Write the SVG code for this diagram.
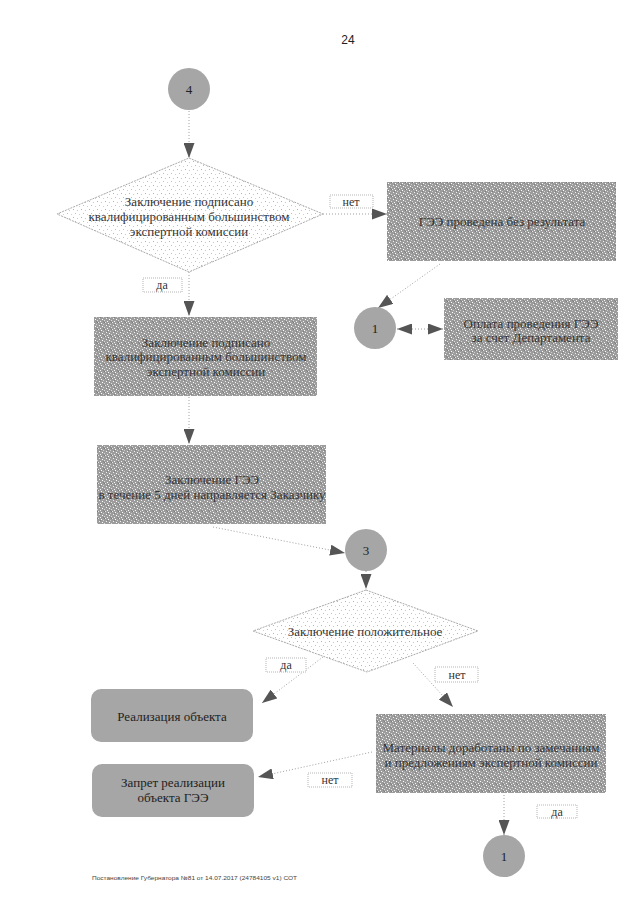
<svg xmlns="http://www.w3.org/2000/svg" width="640" height="905" viewBox="0 0 640 905">
<defs>
<pattern id="grain" width="7" height="7" patternUnits="userSpaceOnUse">
<rect width="7" height="7" fill="#9c9c9c"/>
<rect x="0" y="0" width="1" height="1" fill="#e6e6e6"/>
<rect x="3" y="1" width="1" height="1" fill="#ffffff"/>
<rect x="5" y="2" width="1" height="1" fill="#d0d0d0"/>
<rect x="1" y="3" width="1" height="1" fill="#f0f0f0"/>
<rect x="4" y="4" width="1" height="1" fill="#ffffff"/>
<rect x="6" y="5" width="1" height="1" fill="#dcdcdc"/>
<rect x="2" y="6" width="1" height="1" fill="#f4f4f4"/>
<rect x="6" y="0" width="1" height="1" fill="#7a7a7a"/>
<rect x="2" y="2" width="1" height="1" fill="#808080"/>
<rect x="5" y="6" width="1" height="1" fill="#858585"/>
</pattern>
<pattern id="speck" width="8" height="8" patternUnits="userSpaceOnUse">
<rect width="8" height="8" fill="#ffffff"/>
<rect x="1" y="1" width="1" height="1" fill="#b5b5b5"/>
<rect x="5" y="2" width="1" height="1" fill="#c8c8c8"/>
<rect x="3" y="5" width="1" height="1" fill="#bdbdbd"/>
<rect x="7" y="6" width="1" height="1" fill="#d0d0d0"/>
</pattern>
<marker id="ah" markerUnits="userSpaceOnUse" markerWidth="15" markerHeight="11" refX="15" refY="5.5" orient="auto">
<path d="M0,0 L15,5.5 L0,11 z" fill="#555555"/>
</marker>
<marker id="ahs" markerUnits="userSpaceOnUse" markerWidth="15" markerHeight="11" refX="0" refY="5.5" orient="auto">
<path d="M15,0 L0,5.5 L15,11 z" fill="#555555"/>
</marker>
</defs>
<style>
.box{fill:url(#grain);}
.dia{fill:url(#speck);stroke:#aaaaaa;stroke-width:1;stroke-dasharray:2,1;}
.circ{fill:#a6a6a6;}
.rbox{fill:#a6a6a6;}
.t{font-family:"Liberation Serif","DejaVu Serif",serif;font-size:13px;fill:#333333;text-anchor:middle;}
.tb{font-family:"Liberation Serif","DejaVu Serif",serif;font-size:13px;fill:#222222;text-anchor:middle;}
.conn{fill:none;stroke:#a0a0a0;stroke-width:1;stroke-dasharray:1,2;}
.lbl{fill:#ffffff;stroke:#b5b5b5;stroke-width:1;stroke-dasharray:1,1;}
</style>
<rect width="640" height="905" fill="#ffffff"/>
<text x="348" y="44" style="font-family:'Liberation Sans',Arial,sans-serif;font-size:12px;fill:#222;text-anchor:middle">24</text>

<g id="connectors">
<line class="conn" x1="189" y1="111" x2="189" y2="158" marker-end="url(#ah)"/>
<line class="conn" x1="323" y1="214" x2="387" y2="214" marker-end="url(#ah)"/>
<line class="conn" x1="189" y1="272" x2="189" y2="316" marker-end="url(#ah)"/>
<line class="conn" x1="440" y1="264" x2="378" y2="308" marker-end="url(#ah)"/>
<line class="conn" x1="397" y1="329" x2="443" y2="329" marker-start="url(#ahs)" marker-end="url(#ah)"/>
<line class="conn" x1="189" y1="397" x2="189" y2="444" marker-end="url(#ah)"/>
<line class="conn" x1="213" y1="527" x2="345" y2="553" marker-end="url(#ah)"/>
<line class="conn" x1="366" y1="571" x2="366" y2="589" marker-end="url(#ah)"/>
<line class="conn" x1="323" y1="657" x2="262" y2="703" marker-end="url(#ah)"/>
<line class="conn" x1="413" y1="663" x2="453" y2="707" marker-end="url(#ah)"/>
<line class="conn" x1="372" y1="752" x2="258" y2="777" marker-end="url(#ah)"/>
<line class="conn" x1="504" y1="795" x2="504" y2="835" marker-end="url(#ah)"/>
</g>

<g id="labels">
<rect class="lbl" x="330" y="195" width="43" height="13"/>
<text class="t" x="351" y="206" style="font-size:12px">нет</text>
<rect class="lbl" x="143" y="278" width="39" height="14"/>
<text class="t" x="162" y="289" style="font-size:12px">да</text>
<rect class="lbl" x="266" y="658" width="40" height="14"/>
<text class="t" x="286" y="669" style="font-size:12px">да</text>
<rect class="lbl" x="435" y="667" width="43" height="15"/>
<text class="t" x="457" y="679" style="font-size:12px">нет</text>
<rect class="lbl" x="308" y="773" width="44" height="14"/>
<text class="t" x="330" y="784" style="font-size:12px">нет</text>
<rect class="lbl" x="537" y="805" width="40" height="13"/>
<text class="t" x="557" y="816" style="font-size:12px">да</text>
</g>

<g id="n4">
<circle class="circ" cx="189" cy="89" r="21"/>
<text class="tb" x="189" y="94">4</text>
</g>

<g id="d1">
<polygon class="dia" points="189,158 323,214 189,272 57,214"/>
<text class="t" x="189" y="206">Заключение подписано</text>
<text class="t" x="189" y="221">квалифицированным большинством</text>
<text class="t" x="189" y="236">экспертной комиссии</text>
</g>

<g id="b_noresult">
<rect class="box" x="387" y="182" width="229" height="79"/>
<text class="t" x="502" y="226">ГЭЭ проведена без результата</text>
</g>

<g id="c1a">
<circle class="circ" cx="375" cy="328" r="21"/>
<text class="tb" x="375" y="333">1</text>
</g>

<g id="b_pay">
<rect class="box" x="444" y="298" width="174" height="62"/>
<text class="t" x="531" y="328">Оплата проведения ГЭЭ</text>
<text class="t" x="531" y="342">за счет Департамента</text>
</g>

<g id="b1">
<rect class="box" x="94" y="317" width="223" height="79"/>
<text class="t" x="206" y="347">Заключение подписано</text>
<text class="t" x="206" y="361">квалифицированным большинством</text>
<text class="t" x="206" y="376">экспертной комиссии</text>
</g>

<g id="b2">
<rect class="box" x="97" y="445" width="229" height="79"/>
<text class="t" x="212" y="484">Заключение ГЭЭ</text>
<text class="t" x="212" y="499">в течение 5 дней направляется Заказчику</text>
</g>

<g id="c3">
<circle class="circ" cx="366" cy="550" r="21"/>
<text class="tb" x="366" y="555">3</text>
</g>

<g id="d2">
<polygon class="dia" points="366,590 478,631 367,672 253,631"/>
<text class="t" x="365" y="636">Заключение положительное</text>
</g>

<g id="r_real">
<rect class="rbox" x="91" y="689" width="162" height="53" rx="10" ry="10"/>
<text class="tb" x="172" y="721">Реализация объекта</text>
</g>

<g id="b_mat">
<rect class="box" x="376" y="714" width="230" height="79"/>
<text class="t" x="491" y="752">Материалы доработаны по замечаниям</text>
<text class="t" x="491" y="767">и предложениям экспертной комиссии</text>
</g>

<g id="r_ban">
<rect class="rbox" x="92" y="764" width="162" height="53" rx="10" ry="10"/>
<text class="tb" x="173" y="787">Запрет реализации</text>
<text class="tb" x="173" y="802">объекта ГЭЭ</text>
</g>

<g id="c1b">
<circle class="circ" cx="504" cy="856" r="21"/>
<text class="tb" x="504" y="861">1</text>
</g>

<text x="92" y="880" textLength="205" lengthAdjust="spacingAndGlyphs" style="font-family:'Liberation Sans',Arial,sans-serif;font-size:6px;fill:#444">Постановление Губернатора №81 от 14.07.2017 (24784105 v1) СОТ</text>
</svg>
